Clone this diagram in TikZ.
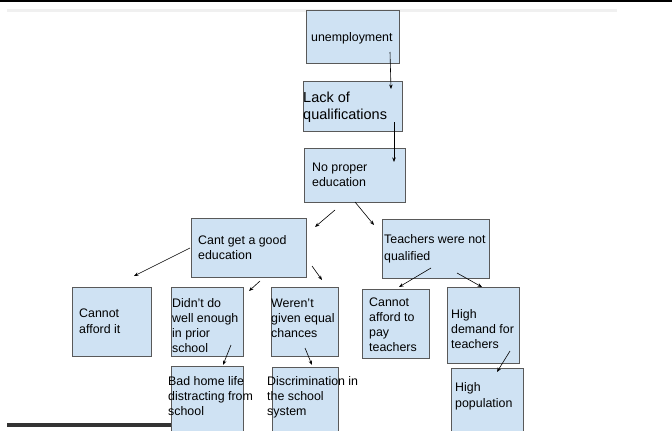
\documentclass[tikz,border=0pt]{standalone}
\usepackage{fontspec}
\setmainfont{Liberation Sans}
\usetikzlibrary{arrows.meta}
\definecolor{boxfill}{HTML}{CFE2F3}
\definecolor{boxline}{HTML}{595959}
\newcommand\mtext[2]{\vtop{\baselineskip=#1pt\lineskiplimit=-20pt\halign{##\hfil\cr#2\crcr}}}
\tikzset{
  box/.style={rectangle, draw=boxline, fill=boxfill, line width=0.9pt, inner sep=0pt, anchor=north west},
  txt/.style={inner sep=0pt, anchor=base west, font=\fontsize{12.4pt}{15pt}\selectfont},
  bigtxt/.style={inner sep=0pt, anchor=base west, font=\fontsize{14.5pt}{17pt}\selectfont},
  arr/.style={-{Stealth[length=4.5pt,width=3.5pt]}, line width=0.6pt, black},
}
\begin{document}
\begin{tikzpicture}[x=1pt,y=-1pt]
\useasboundingbox (0,0) rectangle (672,431);
\clip (0,0) rectangle (672,431);
\fill[white] (0,0) rectangle (672,431);
% window decorations
\fill[black] (0,0) rectangle (672,2);
\fill[black!6] (7,9) rectangle (617,12);
\fill[black!80] (7,423) rectangle (172,427);
% boxes
\node[box, minimum width=93, minimum height=53] (unemp) at (306,10) {};
\node[box, minimum width=99, minimum height=50] (lack) at (303,81) {};
\node[box, minimum width=101, minimum height=54] (nope) at (304,148) {};
\node[box, minimum width=115, minimum height=59] (cant) at (191,218) {};
\node[box, minimum width=107, minimum height=59] (teach) at (382,219) {};
\node[box, minimum width=79, minimum height=69] (afford) at (72,287) {};
\node[box, minimum width=72, minimum height=69] (didnt) at (171,287) {};
\node[box, minimum width=67, minimum height=69] (werent) at (271,287) {};
\node[box, minimum width=67, minimum height=69] (paytea) at (362,289) {};
\node[box, minimum width=72, minimum height=76] (demand) at (447,287) {};
\node[box, minimum width=72, minimum height=74] (badhome) at (171,366) {};
\node[box, minimum width=66, minimum height=73] (discrim) at (272,367) {};
\node[box, minimum width=72, minimum height=72] (highpop) at (451,368) {};
% texts
\node[txt] (tunemp) at (311,41) {unemployment};
\node[bigtxt] (tlack) at (303,102) {\mtext{17}{Lack of\cr qualifications}};
\node[txt] (tnope) at (312,171) {\mtext{15.5}{No proper\cr education}};
\node[txt] (tcant) at (198,244) {\mtext{15.5}{Cant get a good\cr education}};
\node[txt] (tteach) at (384,243) {\mtext{17.5}{Teachers were not\cr qualified}};
\node[txt] (tafford) at (79,317) {\mtext{16}{Cannot\cr afford it}};
\node[txt] (tdidnt) at (172,307) {\mtext{15}{Didn't do\cr well enough\cr in prior\cr school}};
\node[txt] (twerent) at (271,307) {\mtext{15}{Weren't\cr given equal\cr chances}};
\node[txt] (tpaytea) at (369,306) {\mtext{15.3}{Cannot\cr afford to\cr pay\cr teachers}};
\node[txt] (tdemand) at (451,318) {\mtext{15}{High\cr demand for\cr teachers}};
\node[txt] (tbadhome) at (168,385) {\mtext{15}{Bad home life\cr distracting from\cr school}};
\node[txt] (tdiscrim) at (267,385) {\mtext{15}{Discrimination in\cr the school\cr system}};
\node[txt] (thighpop) at (455,391) {\mtext{16}{High\cr population}};
% arrow end points
\coordinate (a1s) at (390,52);  \coordinate (a1e) at (391,89);
\coordinate (a2s) at (394,122); \coordinate (a2e) at (394,162);
\coordinate (a3s) at (335,210); \coordinate (a3e) at (315,227);
\coordinate (a4s) at (355,202); \coordinate (a4e) at (374,225);
\coordinate (a5s) at (190,248); \coordinate (a5e) at (134,276);
\coordinate (a6s) at (312,266); \coordinate (a6e) at (322,280);
\coordinate (a7s) at (260,281); \coordinate (a7e) at (249,291);
\coordinate (a8s) at (431,268); \coordinate (a8e) at (399,287);
\coordinate (a9s) at (457,273); \coordinate (a9e) at (482,287);
\coordinate (a10s) at (231,345); \coordinate (a10e) at (223,365);
\coordinate (a11s) at (305,348); \coordinate (a11e) at (312,365);
\coordinate (a12s) at (510,351); \coordinate (a12e) at (497,372);
\foreach \i in {1,...,12} { \draw[arr] (a\i s) -- (a\i e); }
\end{tikzpicture}
\end{document}
